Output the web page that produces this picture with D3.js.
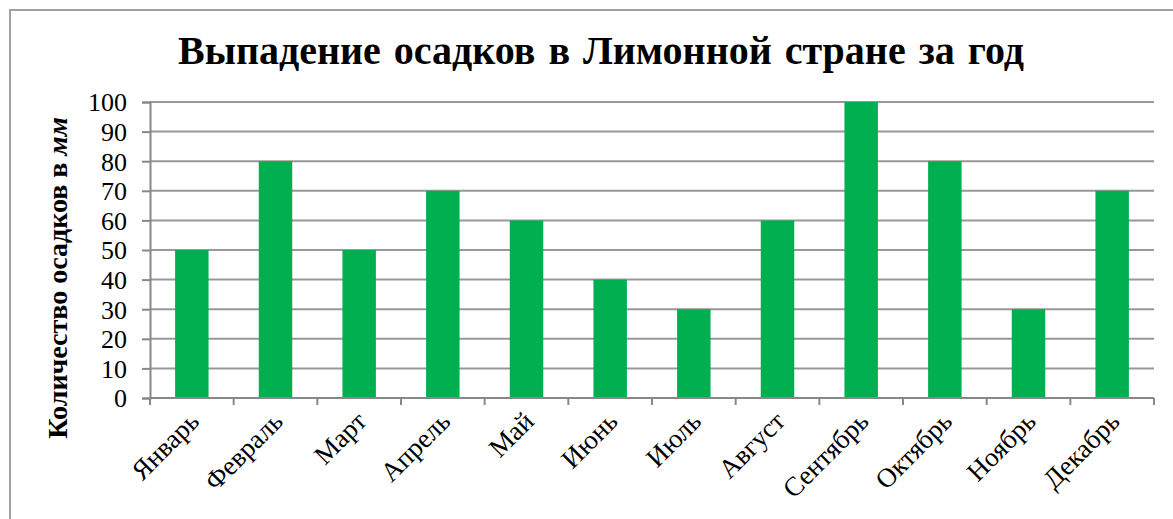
<!DOCTYPE html>
<html>
<head>
<meta charset="utf-8">
<script src="https://cdn.jsdelivr.net/npm/d3@7"></script>
<style>
  body { margin: 0; background: #fff; }
  text { font-family: "Liberation Serif", "Times New Roman", serif; }
</style>
</head>
<body>
<svg id="chart"></svg>
<script>
// data
var months = ["Январь", "Февраль", "Март", "Апрель", "Май", "Июнь", "Июль", "Август", "Сентябрь", "Октябрь", "Ноябрь", "Декабрь"];
var rainfall = [50, 80, 50, 70, 60, 40, 30, 60, 100, 80, 30, 70];
var yTicks = [0, 10, 20, 30, 40, 50, 60, 70, 80, 90, 100];

var svg = d3.select("svg")
    .attr("width", 1173)
    .attr("height", 519);

var plotL = 150, plotT = 102, plotR = 1154, plotB = 398;

// outer frame
svg.append("rect")
    .attr("x", 10).attr("y", 10)
    .attr("width", 1180).attr("height", 540)
    .style("fill", "#fff")
    .style("stroke", "#a0a0a0")
    .style("stroke-width", 2);

var xScale = d3.scaleBand().domain(months).range([plotL, plotR]).paddingInner(0.6).paddingOuter(0.3);
var xTick = d3.scaleBand().domain(months).range([plotL, plotR]);
var yScale = d3.scaleLinear().domain([0, 100]).range([plotB, plotT]);

// title
svg.append("text")
    .attr("x", 601)
    .attr("y", 64)
    .attr("text-anchor", "middle")
    .style("font-size", "40px")
    .style("font-weight", "bold")
    .style("word-spacing", "3px")
    .text("Выпадение осадков в Лимонной стране за год");

// gridlines
svg.append("g")
    .selectAll("line")
    .data(yTicks.slice(1))
    .enter()
    .append("line")
    .attr("x1", plotL).attr("x2", plotR)
    .attr("y1", function(d) { return yScale(d); })
    .attr("y2", function(d) { return yScale(d); })
    .style("stroke", "#989898")
    .style("stroke-width", 2);

// bars
svg.append("g")
    .selectAll("rect")
    .data(rainfall)
    .enter()
    .append("rect")
    .attr("x", function(d, i) { return xScale(months[i]); })
    .attr("y", function(d) { return yScale(d); })
    .attr("width", xScale.bandwidth())
    .attr("height", function(d) { return plotB - yScale(d); })
    .style("fill", "#00b050");

// y axis
var yAxis = svg.append("g")
    .attr("transform", "translate(" + plotL + ",0)")
    .call(d3.axisLeft(yScale).tickValues(yTicks).tickSize(8).tickPadding(15));
yAxis.attr("font-family", null);
yAxis.selectAll("text")
    .style("font-size", "26px")
    .style("font-family", "Liberation Serif")
    .style("fill", "#000")
    .attr("dy", "0.34em");
yAxis.select(".domain").style("stroke", "#888").style("stroke-width", 2);
yAxis.selectAll(".tick line").style("stroke", "#888").style("stroke-width", 2);

// x axis (ticks at band edges)
var xAxis = svg.append("g")
    .attr("transform", "translate(0," + plotB + ")");
xAxis.append("line")
    .attr("x1", plotL).attr("x2", plotR)
    .style("stroke", "#888").style("stroke-width", 2);
xAxis.selectAll(".tk")
    .data(months.concat(["end"]))
    .enter()
    .append("line")
    .attr("class", "tk")
    .attr("x1", function(d, i) { return i < months.length ? xTick(d) : plotR; })
    .attr("x2", function(d, i) { return i < months.length ? xTick(d) : plotR; })
    .attr("y1", 0).attr("y2", 7)
    .style("stroke", "#888").style("stroke-width", 2);
xAxis.selectAll(".lbl")
    .data(months)
    .enter()
    .append("text")
    .attr("class", "lbl")
    .attr("text-anchor", "end")
    .attr("transform", function(d) {
        var cx = xTick(d) + xTick.bandwidth() / 2 + 9;
        return "translate(" + cx + ",25)rotate(-45)";
    })
    .style("font-size", "27px")
    .text(function(d) { return d; });

// y label
var yl = svg.append("text")
    .attr("text-anchor", "middle")
    .attr("transform", "translate(67,278)rotate(-90)")
    .style("font-size", "28px")
    .style("font-weight", "bold");
yl.append("tspan").text("Количество осадков в ");
yl.append("tspan").style("font-style", "italic").text("мм");
</script>
</body>
</html>
